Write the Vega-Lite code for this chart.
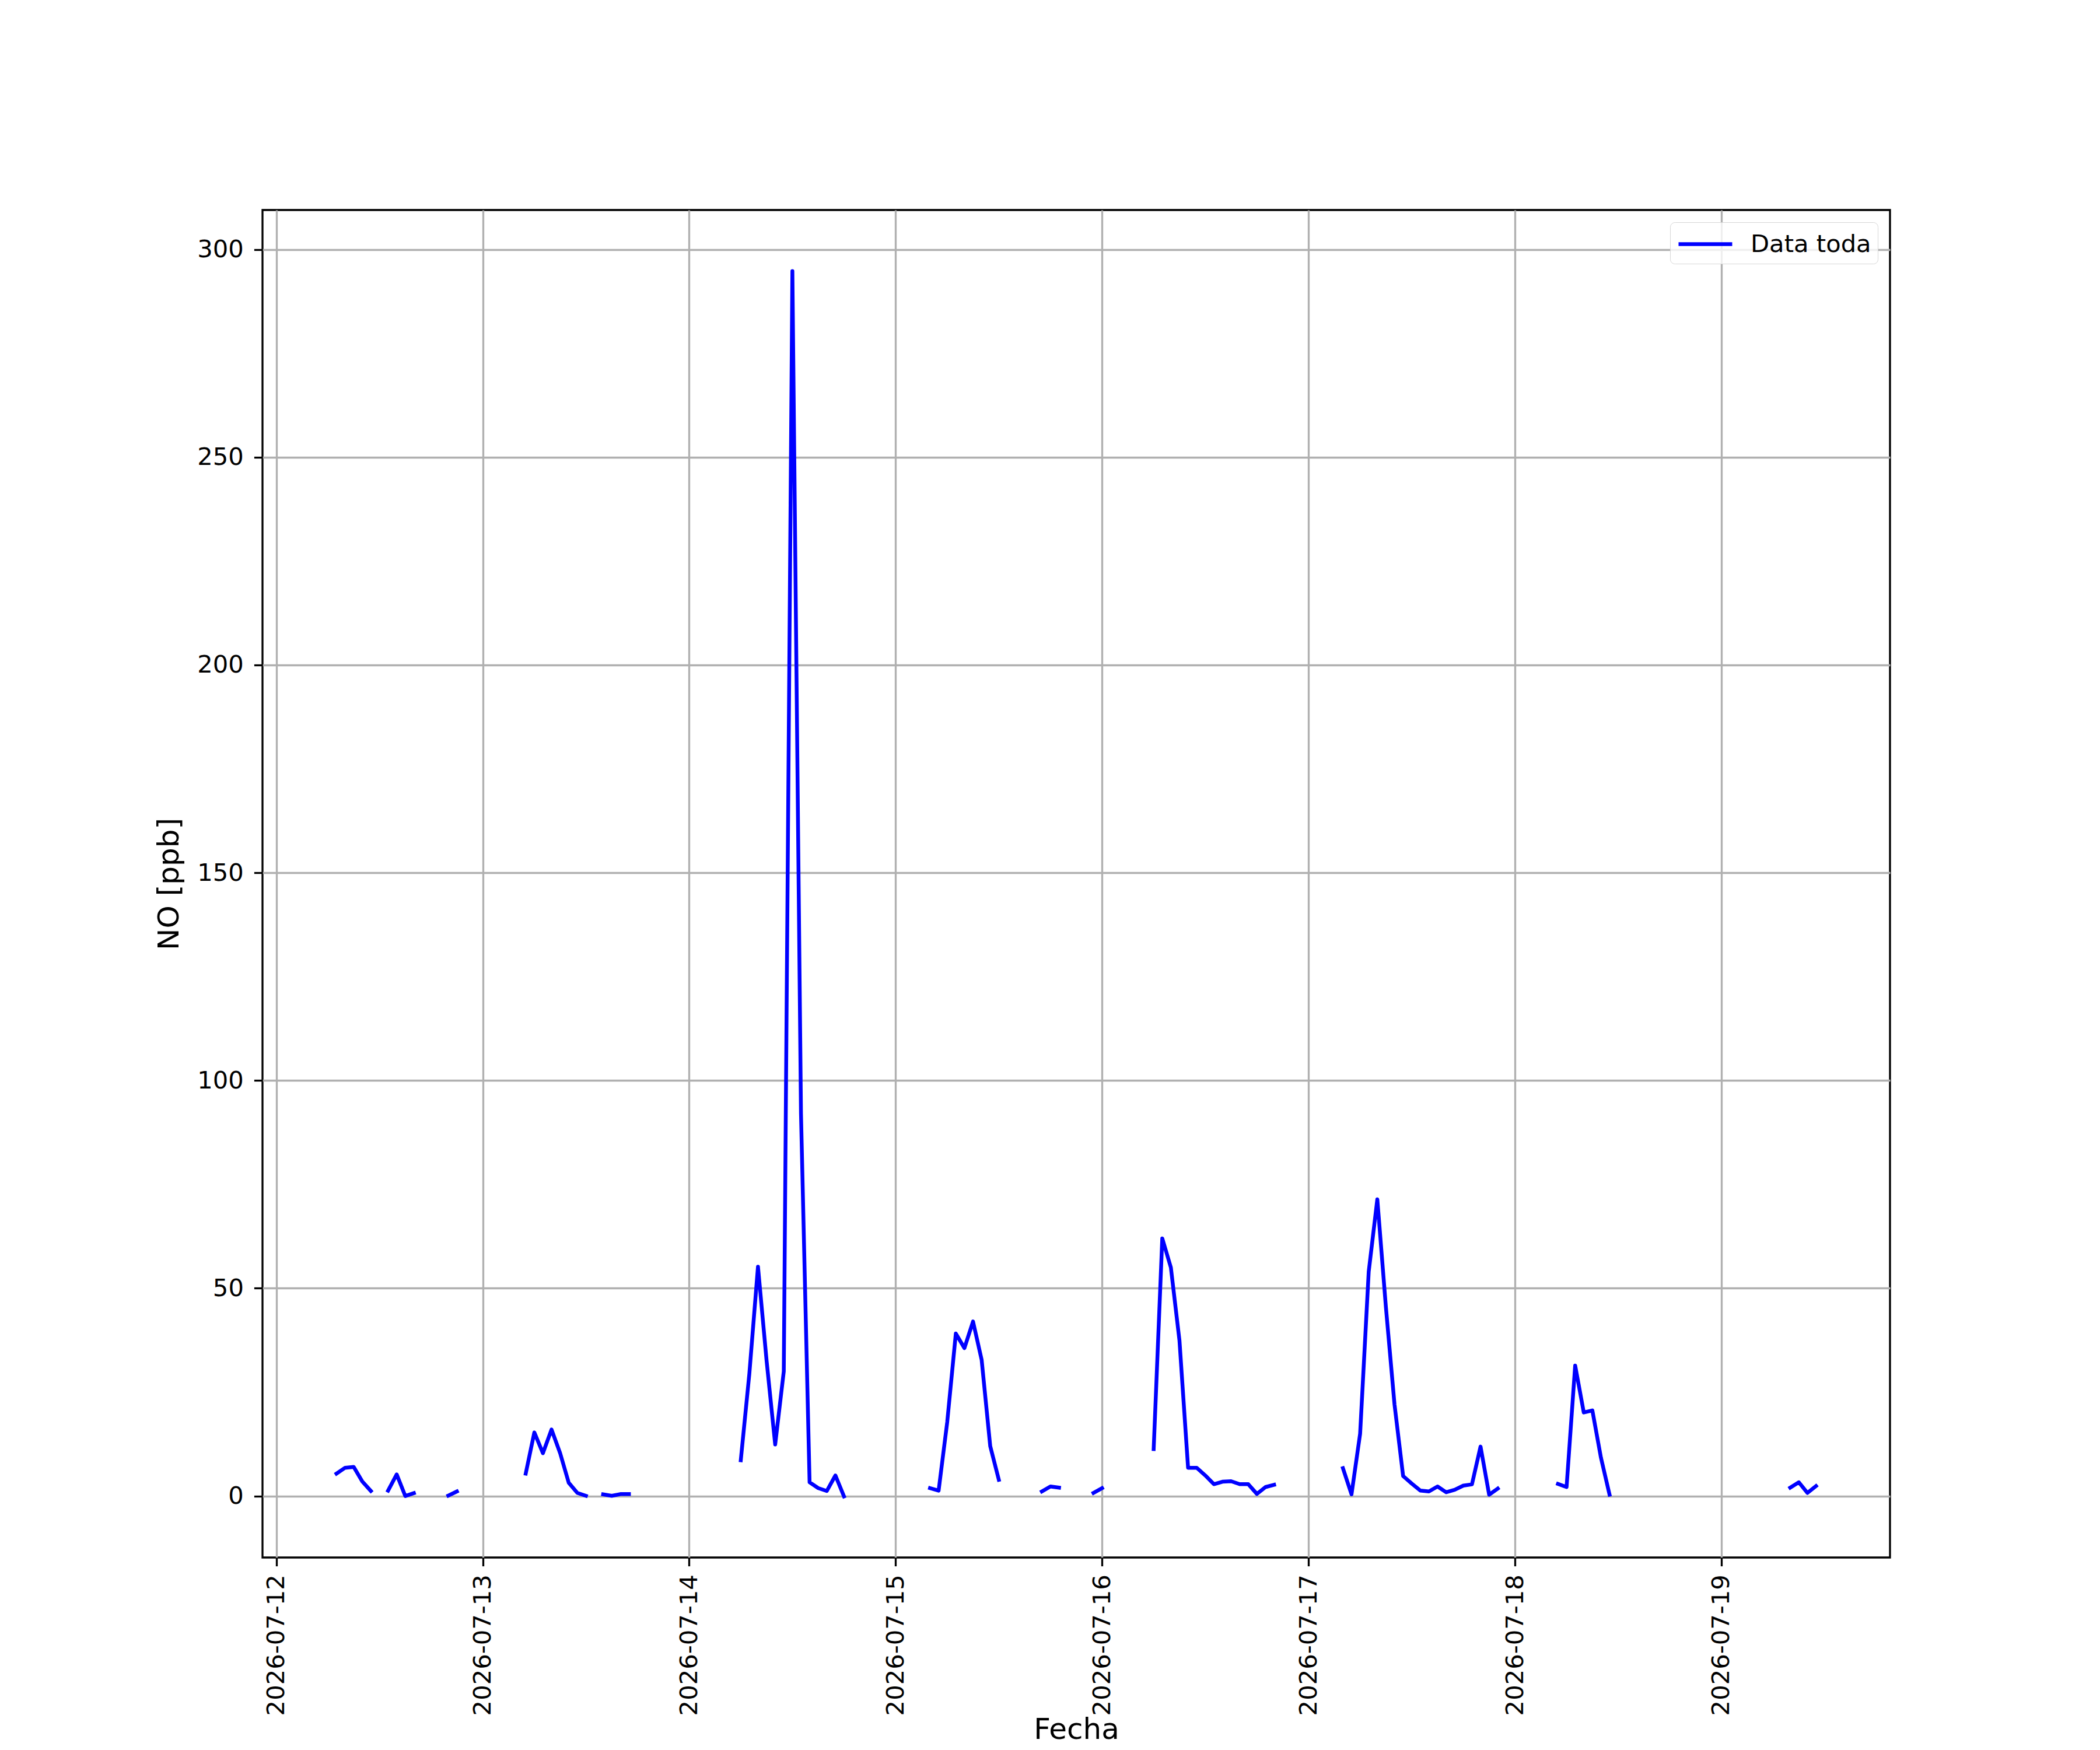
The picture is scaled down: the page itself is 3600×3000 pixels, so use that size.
{
  "$schema": "https://vega.github.io/schema/vega-lite/v6.json",
  "width": 2790,
  "height": 2310,
  "autosize": {"type": "none"},
  "padding": {"left": 450, "top": 360, "right": 360, "bottom": 330},
  "background": "white",
  "config": {
    "font": "DejaVu Sans",
    "view": {"stroke": "black", "strokeWidth": 3.3},
    "axis": {
      "labelFont": "DejaVu Sans",
      "labelFontSize": 41.7,
      "labelColor": "black",
      "labelLimit": 1000,
      "titleFont": "DejaVu Sans",
      "titleFontSize": 50,
      "titleFontWeight": "normal",
      "titleColor": "black",
      "tickColor": "black",
      "tickWidth": 3.3,
      "tickSize": 14.6,
      "domain": false,
      "grid": true,
      "gridColor": "#b0b0b0",
      "gridWidth": 3.3
    }
  },
  "data": {
    "values": [
      {"t": "2026-07-12T07:00:00", "no": 5.4},
      {"t": "2026-07-12T08:00:00", "no": 6.8},
      {"t": "2026-07-12T09:00:00", "no": 7.0},
      {"t": "2026-07-12T10:00:00", "no": 3.5},
      {"t": "2026-07-12T11:00:00", "no": 1.2},
      {"t": "2026-07-12T12:00:00", "no": null},
      {"t": "2026-07-12T13:00:00", "no": 1.3},
      {"t": "2026-07-12T14:00:00", "no": 5.2},
      {"t": "2026-07-12T15:00:00", "no": 0.0},
      {"t": "2026-07-12T16:00:00", "no": 0.7},
      {"t": "2026-07-12T17:00:00", "no": null},
      {"t": "2026-07-12T20:00:00", "no": 0.1},
      {"t": "2026-07-12T21:00:00", "no": 1.1},
      {"t": "2026-07-12T22:00:00", "no": null},
      {"t": "2026-07-13T05:00:00", "no": 5.4},
      {"t": "2026-07-13T06:00:00", "no": 15.3},
      {"t": "2026-07-13T07:00:00", "no": 10.3},
      {"t": "2026-07-13T08:00:00", "no": 16.0},
      {"t": "2026-07-13T09:00:00", "no": 10.3},
      {"t": "2026-07-13T10:00:00", "no": 3.2},
      {"t": "2026-07-13T11:00:00", "no": 0.75},
      {"t": "2026-07-13T12:00:00", "no": 0.05},
      {"t": "2026-07-13T13:00:00", "no": null},
      {"t": "2026-07-13T14:00:00", "no": 0.4},
      {"t": "2026-07-13T15:00:00", "no": 0.05},
      {"t": "2026-07-13T16:00:00", "no": 0.45},
      {"t": "2026-07-13T17:00:00", "no": 0.45},
      {"t": "2026-07-13T18:00:00", "no": null},
      {"t": "2026-07-14T06:00:00", "no": 8.6},
      {"t": "2026-07-14T07:00:00", "no": 29.5},
      {"t": "2026-07-14T08:00:00", "no": 55.2},
      {"t": "2026-07-14T09:00:00", "no": 32.6},
      {"t": "2026-07-14T10:00:00", "no": 12.4},
      {"t": "2026-07-14T11:00:00", "no": 30.0},
      {"t": "2026-07-14T12:00:00", "no": 294.8},
      {"t": "2026-07-14T13:00:00", "no": 92.0},
      {"t": "2026-07-14T14:00:00", "no": 3.3},
      {"t": "2026-07-14T15:00:00", "no": 1.9},
      {"t": "2026-07-14T16:00:00", "no": 1.2},
      {"t": "2026-07-14T17:00:00", "no": 4.95},
      {"t": "2026-07-14T18:00:00", "no": -0.1},
      {"t": "2026-07-14T19:00:00", "no": null},
      {"t": "2026-07-15T04:00:00", "no": 1.9},
      {"t": "2026-07-15T05:00:00", "no": 1.3},
      {"t": "2026-07-15T06:00:00", "no": 17.8},
      {"t": "2026-07-15T07:00:00", "no": 39.1},
      {"t": "2026-07-15T08:00:00", "no": 35.6},
      {"t": "2026-07-15T09:00:00", "no": 42.0},
      {"t": "2026-07-15T10:00:00", "no": 32.8},
      {"t": "2026-07-15T11:00:00", "no": 12.0},
      {"t": "2026-07-15T12:00:00", "no": 3.9},
      {"t": "2026-07-15T13:00:00", "no": null},
      {"t": "2026-07-15T17:00:00", "no": 1.1},
      {"t": "2026-07-15T18:00:00", "no": 2.3},
      {"t": "2026-07-15T19:00:00", "no": 2.0},
      {"t": "2026-07-15T20:00:00", "no": null},
      {"t": "2026-07-15T23:00:00", "no": 0.75},
      {"t": "2026-07-16T00:00:00", "no": 1.9},
      {"t": "2026-07-16T01:00:00", "no": null},
      {"t": "2026-07-16T06:00:00", "no": 11.3},
      {"t": "2026-07-16T07:00:00", "no": 62.0},
      {"t": "2026-07-16T08:00:00", "no": 55.0},
      {"t": "2026-07-16T09:00:00", "no": 37.4},
      {"t": "2026-07-16T10:00:00", "no": 6.8},
      {"t": "2026-07-16T11:00:00", "no": 6.8},
      {"t": "2026-07-16T12:00:00", "no": 4.95},
      {"t": "2026-07-16T13:00:00", "no": 2.85},
      {"t": "2026-07-16T14:00:00", "no": 3.45},
      {"t": "2026-07-16T15:00:00", "no": 3.55},
      {"t": "2026-07-16T16:00:00", "no": 2.85},
      {"t": "2026-07-16T17:00:00", "no": 2.85},
      {"t": "2026-07-16T18:00:00", "no": 0.5},
      {"t": "2026-07-16T19:00:00", "no": 2.15},
      {"t": "2026-07-16T20:00:00", "no": 2.7},
      {"t": "2026-07-16T21:00:00", "no": null},
      {"t": "2026-07-17T04:00:00", "no": 6.7},
      {"t": "2026-07-17T05:00:00", "no": 0.4},
      {"t": "2026-07-17T06:00:00", "no": 15.0},
      {"t": "2026-07-17T07:00:00", "no": 54.0},
      {"t": "2026-07-17T08:00:00", "no": 71.4},
      {"t": "2026-07-17T09:00:00", "no": 45.4},
      {"t": "2026-07-17T10:00:00", "no": 22.0},
      {"t": "2026-07-17T11:00:00", "no": 4.8},
      {"t": "2026-07-17T12:00:00", "no": 3.0},
      {"t": "2026-07-17T13:00:00", "no": 1.3},
      {"t": "2026-07-17T14:00:00", "no": 1.1},
      {"t": "2026-07-17T15:00:00", "no": 2.3},
      {"t": "2026-07-17T16:00:00", "no": 0.9},
      {"t": "2026-07-17T17:00:00", "no": 1.5},
      {"t": "2026-07-17T18:00:00", "no": 2.5},
      {"t": "2026-07-17T19:00:00", "no": 2.8},
      {"t": "2026-07-17T20:00:00", "no": 11.9},
      {"t": "2026-07-17T21:00:00", "no": 0.3},
      {"t": "2026-07-17T22:00:00", "no": 1.8},
      {"t": "2026-07-17T23:00:00", "no": null},
      {"t": "2026-07-18T05:00:00", "no": 2.9},
      {"t": "2026-07-18T06:00:00", "no": 2.15},
      {"t": "2026-07-18T07:00:00", "no": 31.4},
      {"t": "2026-07-18T08:00:00", "no": 20.1},
      {"t": "2026-07-18T09:00:00", "no": 20.6},
      {"t": "2026-07-18T10:00:00", "no": 9.2},
      {"t": "2026-07-18T11:00:00", "no": 0.3},
      {"t": "2026-07-18T12:00:00", "no": null},
      {"t": "2026-07-19T08:00:00", "no": 2.0},
      {"t": "2026-07-19T09:00:00", "no": 3.3},
      {"t": "2026-07-19T10:00:00", "no": 0.75},
      {"t": "2026-07-19T11:00:00", "no": 2.4}
    ]
  },
  "mark": {
    "type": "line",
    "strokeWidth": 6.5,
    "strokeCap": "square",
    "strokeJoin": "round",
    "invalid": "break-paths-filter-domains"
  },
  "encoding": {
    "x": {
      "field": "t",
      "type": "temporal",
      "title": "Fecha",
      "scale": {
        "domain": [
          {"year": 2026, "month": 7, "date": 11, "hours": 22, "minutes": 24},
          {"year": 2026, "month": 7, "date": 19, "hours": 19, "minutes": 36}
        ],
        "nice": false
      },
      "axis": {
        "values": [
          {"year": 2026, "month": 7, "date": 12},
          {"year": 2026, "month": 7, "date": 13},
          {"year": 2026, "month": 7, "date": 14},
          {"year": 2026, "month": 7, "date": 15},
          {"year": 2026, "month": 7, "date": 16},
          {"year": 2026, "month": 7, "date": 17},
          {"year": 2026, "month": 7, "date": 18},
          {"year": 2026, "month": 7, "date": 19}
        ],
        "format": "%Y-%m-%d",
        "labelAngle": 270,
        "labelAlign": "right",
        "labelBaseline": "middle",
        "labelPadding": 14,
        "titlePadding": 70,
        "labelOverlap": false
      }
    },
    "y": {
      "field": "no",
      "type": "quantitative",
      "title": "NO [ppb]",
      "scale": {"domain": [-14.8, 309.5], "nice": false, "zero": false},
      "axis": {
        "values": [0, 50, 100, 150, 200, 250, 300],
        "labelPadding": 18,
        "titlePadding": 22
      }
    },
    "color": {
      "datum": "Data toda",
      "type": "nominal",
      "scale": {"range": ["#0000ff"]},
      "legend": {
        "title": null,
        "orient": "top-right",
        "offset": 21,
        "symbolType": "M-2,0H2",
        "symbolSize": 2116,
        "symbolOffset": 23,
        "symbolStrokeWidth": 6.5,
        "labelFont": "DejaVu Sans",
        "labelFontSize": 41.7,
        "labelColor": "black",
        "labelLimit": 1000,
        "labelOffset": 51,
        "padding": 11,
        "strokeColor": "#d6d6d6",
        "cornerRadius": 8,
        "fillColor": "rgba(255,255,255,0.8)"
      }
    }
  }
}
